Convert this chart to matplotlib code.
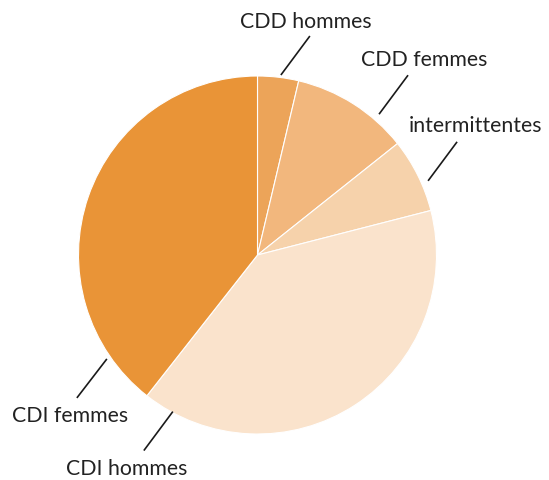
import numpy as np
import matplotlib
matplotlib.use("Agg")
import matplotlib.pyplot as plt

# data (share of each contract type)
labels = ["CDD hommes", "CDD femmes", "intermittentes", "CDI hommes", "CDI femmes"]
values = [3.7, 10.6, 6.7, 39.6, 39.4]
colors = ["#ECA459", "#F2B77D", "#F6D2AB", "#FAE3CC", "#E99437"]

# layout, in pixels (y measured from the top)
W, H = 549, 480
CX, CY, R = 257.5, 255, 179
# leader lines: angle clockwise from 12 o'clock, distance from centre, direction
lead_angle = [7.4, 40.8, 66.5, 208.4, 235.4]
lead_dist = [181.5, 186, 186, 178, 183]
lead_vec = [(29, -39), (29, -39), (29, -39), (-29, 39), (-30, 39)]
text_pos = [(306, 22), (424, 60), (476, 126), (127, 469), (70, 416)]

plt.rcParams["font.family"] = ["Lato", "DejaVu Sans"]


def px(x, y):
    return x, H - y


fig = plt.figure(figsize=(W / 100, H / 100), dpi=100)
ax = fig.add_axes([0, 0, 1, 1])

ax.pie(values, colors=colors, startangle=90, counterclock=False,
       center=px(CX, CY), radius=R,
       wedgeprops=dict(edgecolor="white", linewidth=0.8))

for lab, ang, d, (vx, vy), (tx, ty) in zip(labels, lead_angle, lead_dist,
                                             lead_vec, text_pos):
    t = np.deg2rad(ang)
    x0 = CX + d * np.sin(t)
    y0 = CY - d * np.cos(t)
    (a, b), (c, e) = px(x0, y0), px(x0 + vx, y0 + vy)
    ax.plot([a, c], [b, e], color="#1a1a1a", linewidth=1.2, solid_capstyle="butt")
    ax.text(*px(tx, ty), lab, ha="center", va="center", fontsize=15.3,
            color="#222222")

ax.set_xlim(0, W)
ax.set_ylim(0, H)
ax.set_aspect("equal")
ax.axis("off")

fig.savefig("out.png", dpi=100)
